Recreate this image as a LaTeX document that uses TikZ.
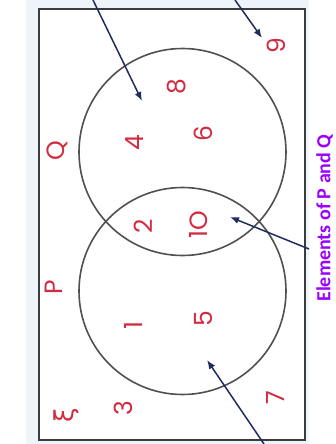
\documentclass[tikz,border=0pt]{standalone}
\usepackage{fontspec}
\setmainfont{Poppins}
\newfontfamily\labfont{Carlito}
\newfontfamily\symfont{DejaVu Sans}
\usetikzlibrary{arrows.meta}
\definecolor{numred}{HTML}{D42A40}
\definecolor{arrownavy}{HTML}{1E2D5E}
\definecolor{labpurple}{HTML}{9B00FF}
\definecolor{bgblue}{HTML}{EEF4F9}
\definecolor{framegray}{HTML}{3C3C3C}
\begin{document}
\begin{tikzpicture}[x=1pt,y=-1pt,
  num/.style={text=numred,font=\fontsize{25}{25}\selectfont,rotate=90,inner sep=0pt},
  ring/.style={draw=framegray!90,line width=1.6pt},
  pointer/.style={draw=arrownavy,line width=1.5pt,-{Latex[length=9pt,width=7pt]}}]
\useasboundingbox (0,0) rectangle (335,444);
\fill[white] (0,0) rectangle (335,444);
\fill[bgblue] (26,0) rectangle (309,444);
\draw[fill=white,draw=framegray,line width=2pt] (39,9) rectangle (305,440);
\draw[ring] (182.5,152) circle (103.5);
\draw[ring] (182.5,291) circle (103.5);
% labels
\node[num] (Q) at (57,151) {Q};
\node[num] (P) at (54,287) {P};
\node[num,font=\symfont\fontsize{26}{26}\selectfont] (xi) at (66,415) {ξ};
\node[num] (n3) at (123,408) {3};
\node[num] (n1) at (133,325) {1};
\node[num] (n5) at (203,319) {5};
\node[num] (n7) at (275,398) {7};
\node[num] (n2) at (143,226) {2};
\node[num] (n10) at (199,225) {1O};
\node[num] (n4) at (135,143) {4};
\node[num] (n6) at (203,134) {6};
\node[num] (n8) at (177,87) {8};
\node[num] (n9) at (276,46) {9};
\node[rotate=90,text=labpurple,font=\labfont\bfseries\fontsize{20}{20}\selectfont,inner sep=0pt] (lab) at (324.5,218) {Elements of P and Q};
% arrows
\coordinate (a1s) at (93,0);
\coordinate (a1e) at (142,101);
\coordinate (a2s) at (235,0);
\coordinate (a2e) at (262,38);
\coordinate (a3s) at (309,249);
\coordinate (a3e) at (230,217);
\coordinate (a4s) at (264,444);
\coordinate (a4e) at (207,360);
\draw[pointer] (a1s) -- (a1e);
\draw[pointer] (a2s) -- (a2e);
\draw[pointer] (a3s) -- (a3e);
\draw[pointer] (a4s) -- (a4e);
\end{tikzpicture}
\end{document}
